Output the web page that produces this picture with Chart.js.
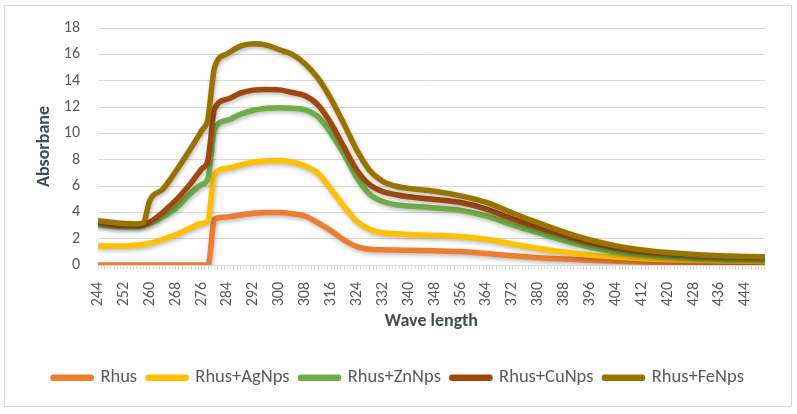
<!DOCTYPE html>
<html>
<head>
<meta charset="utf-8">
<script src="https://cdn.jsdelivr.net/npm/chart.js@4.4.1/dist/chart.umd.min.js"></script>
<style>
  body { margin: 0; background: #fff; }
  #wrap { position: relative; width: 797px; height: 414px; }
  #frame { position: absolute; left: 4px; top: 5px; width: 786px; height: 400px; border: 1px solid #d9d9d9; pointer-events: none; }
  canvas { position: absolute; left: 0; top: 0; }
</style>
</head>
<body>
<div id="wrap">
  <canvas id="chart" width="797" height="414"></canvas>
  <div id="frame"></div>
</div>
<script>
const wavelengths = [244, 248, 252, 256, 258, 260, 264, 268, 272, 276, 278, 280, 284, 288, 292, 296, 300, 304, 308, 312, 316, 320, 324, 328, 332, 336, 340, 348, 356, 364, 372, 380, 388, 396, 404, 412, 420, 428, 436, 444, 450];

const rhus   = [0, 0, 0, 0, 0, 0, 0, 0, 0, 0, 0, 3.5, 3.65, 3.8, 3.93, 3.98, 3.98, 3.9, 3.72, 3.2, 2.6, 1.9, 1.4, 1.2, 1.15, 1.13, 1.12, 1.08, 1.02, 0.87, 0.7, 0.55, 0.45, 0.36, 0.28, 0.22, 0.18, 0.15, 0.13, 0.12, 0.12];
const rhusAg = [1.45, 1.45, 1.45, 1.5, 1.55, 1.65, 1.95, 2.3, 2.75, 3.15, 3.4, 6.9, 7.35, 7.6, 7.8, 7.9, 7.93, 7.8, 7.52, 6.95, 5.75, 4.45, 3.3, 2.7, 2.45, 2.38, 2.32, 2.25, 2.15, 1.95, 1.6, 1.25, 0.98, 0.75, 0.6, 0.48, 0.4, 0.34, 0.3, 0.28, 0.27];
const rhusZn = [3.05, 2.95, 2.9, 2.9, 3.0, 3.15, 3.65, 4.3, 5.3, 6.1, 6.6, 10.3, 11.0, 11.45, 11.75, 11.9, 11.95, 11.9, 11.78, 11.25, 10.0, 8.4, 6.6, 5.35, 4.82, 4.58, 4.48, 4.33, 4.15, 3.72, 3.05, 2.45, 1.85, 1.35, 1.0, 0.8, 0.65, 0.55, 0.48, 0.45, 0.43];
const rhusCu = [3.25, 3.1, 3.0, 3.0, 3.05, 3.25, 4.0, 4.9, 6.0, 7.3, 8.0, 11.85, 12.6, 13.05, 13.28, 13.33, 13.3, 13.1, 12.85, 12.15, 10.75, 8.95, 7.2, 6.08, 5.57, 5.34, 5.18, 4.98, 4.75, 4.25, 3.5, 2.85, 2.25, 1.7, 1.3, 1.0, 0.85, 0.72, 0.65, 0.6, 0.58];
const rhusFe = [3.37, 3.25, 3.15, 3.12, 3.2, 4.9, 5.75, 7.1, 8.6, 10.2, 11.15, 15.0, 16.05, 16.62, 16.8, 16.7, 16.35, 16.0, 15.27, 14.17, 12.6, 10.7, 8.7, 7.15, 6.35, 5.98, 5.82, 5.6, 5.25, 4.75, 3.95, 3.2, 2.5, 1.9, 1.45, 1.15, 0.95, 0.8, 0.7, 0.65, 0.63];

const seriesNames = ['Rhus', 'Rhus+AgNps', 'Rhus+ZnNps', 'Rhus+CuNps', 'Rhus+FeNps'];
const seriesColors = ['#ED7D31', '#FFC000', '#70AD47', '#9E480E', '#997300'];
const xTickLabels = [244, 252, 260, 268, 276, 284, 292, 300, 308, 316, 324, 332, 340, 348, 356, 364, 372, 380, 388, 396, 404, 412, 420, 428, 436, 444];

Chart.defaults.font.family = 'Carlito, Calibri, Lato, sans-serif';
Chart.defaults.color = '#595959';

// soft shadow under the lines, like the Excel style
const lineShadow = {
  id: 'lineShadow',
  beforeDatasetsDraw(chart) {
    const c = chart.ctx;
    c.save();
    c.shadowColor = 'rgba(0,0,0,0.28)';
    c.shadowBlur = 4;
    c.shadowOffsetX = 1;
    c.shadowOffsetY = 2;
  },
  afterDatasetsDraw(chart) {
    chart.ctx.restore();
  }
};

const allSeries = [rhus, rhusAg, rhusZn, rhusCu, rhusFe];
const datasets = allSeries.map((vals, i) => ({
  label: seriesNames[i],
  data: wavelengths.map((w, j) => ({ x: w, y: vals[j] })),
  borderColor: seriesColors[i],
  backgroundColor: seriesColors[i],
  borderWidth: 5.5,
  borderJoinStyle: 'round',
  borderCapStyle: 'round',
  pointRadius: 0,
  cubicInterpolationMode: 'monotone',
  order: allSeries.length - 1 - i
}));

new Chart(document.getElementById('chart'), {
  type: 'line',
  data: { datasets: datasets },
  options: {
    responsive: false,
    animation: false,
    layout: { padding: { top: 28, left: 0, right: 0, bottom: 17 } },
    plugins: {
      tooltip: { enabled: false },
      legend: {
        position: 'bottom',
        labels: {
          boxWidth: 38,
          boxHeight: 1,
          padding: 11,
          font: { size: 18.5 },
          color: '#595959',
          sort: (a, b) => a.datasetIndex - b.datasetIndex
        }
      }
    },
    scales: {
      x: {
        type: 'linear',
        min: 244,
        max: 450,
        afterBuildTicks: (scale) => {
          const t = [];
          for (let v = 244; v <= 450; v++) t.push({ value: v });
          scale.ticks = t;
        },
        afterFit: (scale) => { scale.height = 92.5; },
        ticks: {
          autoSkip: false,
          minRotation: 90,
          maxRotation: 90,
          padding: 13,
          font: { size: 16 },
          color: '#595959',
          callback: (v) => xTickLabels.includes(v) ? String(v) : ''
        },
        grid: { drawOnChartArea: false, drawTicks: true, tickLength: 4, color: '#d9d9d9' },
        border: { color: '#d9d9d9' },
        title: {
          display: true,
          text: 'Wave length',
          color: '#404a5a',
          font: { size: 18, weight: 'bold' },
          padding: { top: 4, bottom: 25 }
        }
      },
      y: {
        min: 0,
        max: 18,
        afterFit: (scale) => { scale.width = 98; },
        ticks: { stepSize: 2, padding: 18, font: { size: 16 }, color: '#595959' },
        grid: { color: '#d9d9d9', drawTicks: false },
        border: { display: false },
        title: {
          display: true,
          text: 'Absorbane',
          color: '#404a5a',
          font: { size: 18, weight: 'bold' },
          padding: { top: 34, bottom: 0 }
        }
      },
      yRight: {
        position: 'right',
        afterFit: (scale) => { scale.width = 29; },
        ticks: { display: false },
        grid: { display: false },
        border: { display: false }
      }
    }
  },
  plugins: [lineShadow]
});
</script>
</body>
</html>
